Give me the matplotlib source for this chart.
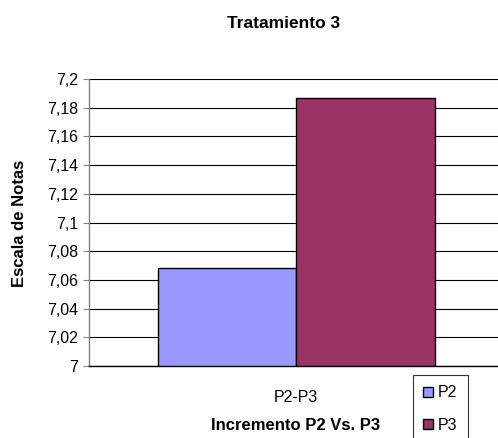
import matplotlib
matplotlib.use('Agg')
import matplotlib.pyplot as plt
from matplotlib.ticker import FuncFormatter

plt.rcParams['font.family'] = ['Liberation Sans', 'DejaVu Sans']

# data
category = 'P2-P3'
series = ['P2', 'P3']
values = [7.068, 7.187]
colors = ['#9999FF', '#993366']
yticks = [7.0, 7.02, 7.04, 7.06, 7.08, 7.1, 7.12, 7.14, 7.16, 7.18, 7.2]

W, H = 498, 438
fig = plt.figure(figsize=(W / 100, H / 100), dpi=100)
# plot area in pixels: left 89, right 498, top 79, bottom 366
ax = fig.add_axes([89 / W, (H - 366) / H, (498 - 89) / W, (366 - 79) / H])

pos = [-0.5, 0.5]
for p, v, c, s in zip(pos, values, colors, series):
    ax.bar(p, v - 7.0, bottom=7.0, width=1.0, color=c, edgecolor='black',
           linewidth=1.0, label=s, zorder=3)

ax.set_ylim(7.0, 7.2)
ax.set_xlim((89 - 296) / 138.5, (498 - 296) / 138.5)
ax.set_yticks(yticks)
ax.yaxis.set_major_formatter(FuncFormatter(lambda v, _: ('%g' % round(v, 2)).replace('.', ',')))
ax.set_xticks([0])
ax.set_xticklabels([category])
ax.yaxis.grid(True, color='black', linewidth=0.8, zorder=0)

for s in ['top', 'right']:
    ax.spines[s].set_visible(False)
ax.spines['left'].set_color('#808080')
ax.spines['left'].set_linewidth(1.0)
ax.spines['bottom'].set_color('black')
ax.spines['bottom'].set_linewidth(1.0)
ax.tick_params(axis='y', direction='out', length=4, color='#808080', labelsize=11.5, pad=4)
ax.tick_params(axis='x', length=0, labelsize=11.5, pad=17)

fig.text(19 / W, 1 - 223 / H, 'Escala de Notas', rotation=90, ha='center', va='center',
         fontsize=12, fontweight='bold')
fig.text(296 / W, 1 - 426 / H, 'Incremento P2 Vs. P3', ha='center', va='center',
         fontsize=12, fontweight='bold')
fig.text(284 / W, 1 - 23 / H, 'Tratamiento 3', ha='center', va='center',
         fontsize=12.5, fontweight='bold')

leg = fig.legend(loc='upper left', bbox_to_anchor=(413 / W, 1 - 375 / H),
                 fontsize=11.5, frameon=True, fancybox=False, edgecolor='black',
                 handlelength=0.6, handleheight=0.6, handletextpad=0.3,
                 labelspacing=1.1, borderpad=0.65, borderaxespad=0)
leg.get_frame().set_linewidth(0.8)

fig.savefig('out.png', dpi=100)
